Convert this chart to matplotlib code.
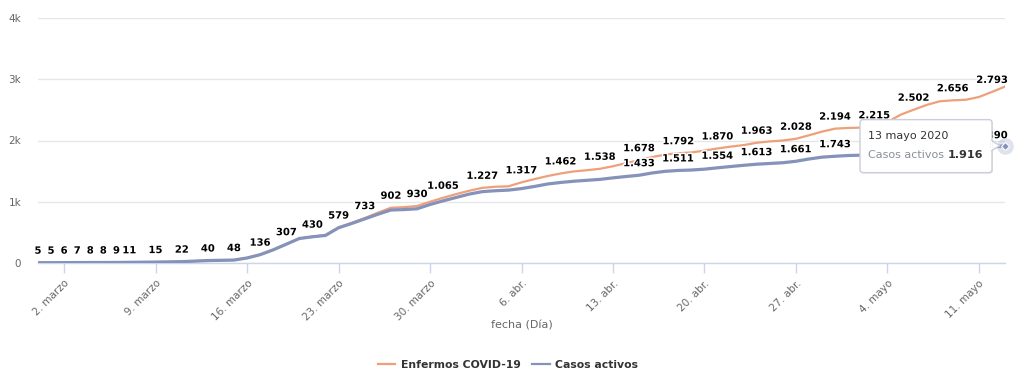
import matplotlib
matplotlib.use('Agg')
import matplotlib.pyplot as plt
import matplotlib.dates as mdates
import matplotlib.patheffects as pe
import matplotlib.transforms as mtransforms
from matplotlib.patches import FancyBboxPatch, Polygon
from matplotlib.lines import Line2D
import pandas as pd

# ---------------- data ----------------
start_date = '2020-02-29'
end_date = '2020-05-13'

enfermos = [
    5,                                                   # Feb 29
    5, 6, 7, 8, 8, 9, 11, 13, 15, 18, 22, 31, 40, 44, 48, 82,
    136, 215, 307, 400, 430, 455, 579, 655, 733, 820, 902, 912, 930, 1000, 1065,   # March
    1125, 1180, 1227, 1245, 1252, 1317, 1370, 1420, 1462, 1495, 1515, 1538, 1580, 1630, 1678,
    1730, 1770, 1792, 1805, 1835, 1870, 1900, 1925, 1963, 1985, 2000, 2028, 2085, 2145, 2194,  # April
    2205, 2210, 2215, 2300, 2420, 2502, 2580, 2640, 2656, 2665, 2710, 2793, 2880,  # May
]

activos = [
    5,
    5, 6, 7, 8, 8, 9, 11, 13, 15, 18, 22, 31, 40, 44, 48, 82,
    136, 215, 307, 400, 428, 450, 575, 645, 720, 795, 865, 872, 885, 955, 1015,
    1070, 1125, 1165, 1180, 1190, 1215, 1250, 1290, 1315, 1335, 1350, 1365, 1390, 1412, 1433,
    1470, 1497, 1511, 1518, 1532, 1554, 1575, 1595, 1613, 1625, 1637, 1661, 1698, 1728, 1743,
    1755, 1760, 1765, 1790, 1815, 1835, 1850, 1860, 1866, 1872, 1880, 1890, 1916,
]

enfermos_label_dates = [
    '2020-02-29', '2020-03-01', '2020-03-02', '2020-03-03', '2020-03-04', '2020-03-05',
    '2020-03-06', '2020-03-07', '2020-03-09', '2020-03-11', '2020-03-13', '2020-03-15',
    '2020-03-17', '2020-03-19', '2020-03-21', '2020-03-23', '2020-03-25', '2020-03-27',
    '2020-03-29', '2020-03-31', '2020-04-03', '2020-04-06', '2020-04-09', '2020-04-12',
    '2020-04-15', '2020-04-18', '2020-04-21', '2020-04-24', '2020-04-27', '2020-04-30',
    '2020-05-03', '2020-05-06', '2020-05-09', '2020-05-12',
]
activos_label_dates = [
    '2020-04-15', '2020-04-18', '2020-04-21', '2020-04-24', '2020-04-27', '2020-04-30',
    '2020-05-12',
]

x_tick_dates = ['2020-03-02', '2020-03-09', '2020-03-16', '2020-03-23', '2020-03-30',
                '2020-04-06', '2020-04-13', '2020-04-20', '2020-04-27', '2020-05-04',
                '2020-05-11']
x_tick_labels = ['2. marzo', '9. marzo', '16. marzo', '23. marzo', '30. marzo',
                 '6. abr.', '13. abr.', '20. abr.', '27. abr.', '4. mayo', '11. mayo']
y_ticks = [0, 1000, 2000, 3000, 4000]
y_tick_labels = ['0', '1k', '2k', '3k', '4k']
series_names = ['Enfermos COVID-19', 'Casos activos']
x_title = 'fecha (Día)'
tooltip_date = '13 mayo 2020'

# ---------------- style ----------------
ORANGE = '#eea07a'
BLUE = '#8592ba'
GRID = '#e6e6e6'
AXIS = '#ccd6eb'
TXT = '#666666'

dates = pd.date_range(start_date, end_date, freq='D')
s_enf = pd.Series(enfermos, index=dates)
s_act = pd.Series(activos, index=dates)


def fmt(v):
    return f"{int(v):,}".replace(',', '.')


fig = plt.figure(figsize=(10.24, 3.81), dpi=100)
ax = fig.add_axes([38 / 1024, 1 - 263 / 381, 967 / 1024, 245 / 381])

ax.plot(dates, s_enf.values, color=ORANGE, lw=1.6, zorder=3, solid_joinstyle='round')
ax.plot(dates, s_act.values, color=BLUE, lw=2.3, zorder=4, solid_joinstyle='round')

ax.set_xlim(dates[0], dates[-1])
ax.set_ylim(0, 4000)

ax.set_yticks(y_ticks)
ax.set_yticklabels(y_tick_labels)
ax.set_xticks(pd.to_datetime(x_tick_dates))
ax.set_xticklabels(x_tick_labels, rotation=45, ha='right', va='top',
                   rotation_mode='anchor')

for sp in ['top', 'right', 'left']:
    ax.spines[sp].set_visible(False)
ax.spines['bottom'].set_color(AXIS)
ax.spines['bottom'].set_linewidth(1)

ax.yaxis.grid(True, color=GRID, lw=1)
ax.set_axisbelow(True)
ax.tick_params(axis='y', length=0, pad=12, labelsize=7.5, labelcolor=TXT)
ax.tick_params(axis='x', length=7, width=1, color=AXIS, pad=4, labelsize=7.5,
               labelcolor=TXT)

ax.text(0.5, -0.257, x_title, transform=ax.transAxes, ha='center', va='center',
        fontsize=8, color=TXT)

halo = [pe.withStroke(linewidth=2.2, foreground='white')]
for d in enfermos_label_dates:
    dt = pd.Timestamp(d)
    ax.annotate(fmt(s_enf[dt]), xy=(dt, s_enf[dt]), xytext=(0, 12),
                textcoords='offset pixels', ha='center', va='center',
                fontsize=7.2, fontweight='bold', color='black', zorder=6,
                path_effects=halo, annotation_clip=False)
for d in activos_label_dates:
    dt = pd.Timestamp(d)
    ax.annotate(fmt(s_act[dt]), xy=(dt, s_act[dt]), xytext=(0, 12),
                textcoords='offset pixels', ha='center', va='center',
                fontsize=7.2, fontweight='bold', color='black', zorder=6,
                path_effects=halo, annotation_clip=False)

# ---------------- tooltip on last point ----------------
last_x = mdates.date2num(dates[-1])
last_y = s_act.iloc[-1]
ax.plot([dates[-1]], [last_y], marker='o', ms=12, color=BLUE, alpha=0.25,
        mec='none', zorder=7, clip_on=False)
ax.plot([dates[-1]], [last_y], marker='D', ms=4.5, color=BLUE, mec='white',
        mew=0.8, zorder=8, clip_on=False)

trans = mtransforms.ScaledTranslation(last_x, last_y, ax.transData)
shadow = FancyBboxPatch((-144, -28), 132, 53, boxstyle='round,pad=0,rounding_size=3',
                        transform=trans, facecolor='black', edgecolor='none',
                        alpha=0.08, zorder=9, clip_on=False)
box = FancyBboxPatch((-145, -27), 132, 53, boxstyle='round,pad=0,rounding_size=3',
                     transform=trans, facecolor='white', edgecolor='#c9ced8',
                     lw=1, zorder=10, clip_on=False)
ax.add_patch(shadow)
ax.add_patch(box)
ptr = Polygon([(-13.5, 5), (-5, 0), (-13.5, -5)], closed=True, transform=trans,
              facecolor='white', edgecolor='#c9ced8', lw=1, zorder=10, clip_on=False)
ax.add_patch(ptr)
cover = Polygon([(-14.5, 4.2), (-13, 4.2), (-13, -4.2), (-14.5, -4.2)], closed=True,
                transform=trans, facecolor='white', edgecolor='none', zorder=10.5,
                clip_on=False)
ax.add_patch(cover)

ax.text(-137, 10, tooltip_date, transform=trans, ha='left', va='center', fontsize=8,
        color='#333333', zorder=11, clip_on=False)
t2 = ax.text(-137, -9, series_names[1], transform=trans, ha='left', va='center',
             fontsize=8, color='#8a8f99', zorder=11, clip_on=False)
ax.annotate(fmt(last_y), xy=(1, 0.5), xycoords=t2, xytext=(4, 0),
            textcoords='offset pixels', ha='left', va='center', fontsize=8,
            fontweight='bold', color='#333333', zorder=11, annotation_clip=False)

# ---------------- legend ----------------
handles = [Line2D([0], [0], color=ORANGE, lw=1.6), Line2D([0], [0], color=BLUE, lw=1.6)]
leg = fig.legend(handles, series_names, loc='center', bbox_to_anchor=(0.496, 1 - 365 / 381),
                 ncol=2, frameon=False, prop=dict(weight='bold', size=7.8),
                 handlelength=1.6, handletextpad=0.5, columnspacing=1.1)
for t in leg.get_texts():
    t.set_color('#333333')

fig.savefig('out.png', dpi=100)
